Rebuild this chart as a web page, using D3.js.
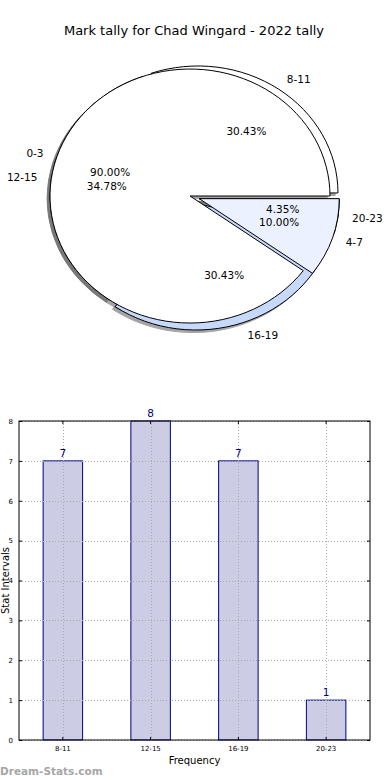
<!DOCTYPE html>
<html>
<head>
<meta charset="utf-8">
<script src="https://cdn.jsdelivr.net/npm/d3@7/dist/d3.min.js"></script>
<style>
html,body{margin:0;padding:0;background:#fff;}
svg{display:block;font-family:"DejaVu Sans",sans-serif;}
</style>
</head>
<body>
<svg id="chart" width="390" height="780"></svg>
<script>
// ---- data ----
const title = "Mark tally for Chad Wingard - 2022 tally";
const pie1Labels = ["0-3", "4-7"];
const pie1Values = [9, 1];
const pie2Labels = ["8-11", "12-15", "16-19", "20-23"];
const pie2Values = [7, 8, 7, 1];
const barCategories = ["8-11", "12-15", "16-19", "20-23"];
const barValues = [7, 8, 7, 1];
const yTicks = [0, 1, 2, 3, 4, 5, 6, 7, 8];

// ---- style / layout config ----
const pie1Colors = ["#ffffff", "#ebf1fe"];
const pie2Colors = ["#ffffff", "#ebf1fe", "#c6d9fb", "#9dbdf5"];
// explode offsets in pie data units [dx, dy]
const pie1Offsets = [[0, 0], [0.066, -0.021]];
const pie2Offsets = [[0.057, 0.024], [0, 0], [0.043, -0.055], [0.068, -0.024]];

const svg = d3.select("#chart");

svg.append("text").attr("x", 194).attr("y", 30).attr("text-anchor", "middle")
  .attr("dominant-baseline", "central").attr("font-size", 13).attr("fill", "#000").text(title);

// ---- pie ----
const px = d3.scaleLinear().domain([-1, 1]).range([50, 330]);
const py = d3.scaleLinear().domain([-1, 1]).range([323, 69]);
const rx = px(1) - px(0), ry = py(0) - py(1);

function wedges(values, offsets, colors, labels) {
  const total = d3.sum(values);
  let acc = 0;
  return values.map((v, i) => {
    const t1 = acc / total * 2 * Math.PI;
    acc += v;
    const t2 = acc / total * 2 * Math.PI;
    return {t1, t2, frac: v / total, off: offsets[i], color: colors[i], label: labels[i]};
  });
}
const w2 = wedges(pie2Values, pie2Offsets, pie2Colors, pie2Labels);
const w1 = wedges(pie1Values, pie1Offsets, pie1Colors, pie1Labels);
const arc = d3.arc().innerRadius(0).outerRadius(1);
function wedgePath(w) {
  return arc({startAngle: Math.PI / 2 - w.t2, endAngle: Math.PI / 2 - w.t1});
}
const pieG = svg.append("g");
const shadowG = pieG.append("g");
const wedgeG = pieG.append("g");
const textG = pieG.append("g");
const all = w2.concat(w1);
// shadows (below all wedges)
all.forEach(w => {
  const sx = px(w.off[0] - 0.02), sy = py(w.off[1] - 0.02);
  shadowG.append("path").attr("d", wedgePath(w))
    .attr("transform", `translate(${sx},${sy}) scale(${rx},${ry})`)
    .attr("fill", "#4d4d4d").attr("stroke", "#4d4d4d").attr("stroke-width", 1)
    .attr("vector-effect", "non-scaling-stroke").attr("opacity", 0.5);
});
all.forEach(w => {
  wedgeG.append("path").attr("d", wedgePath(w))
    .attr("transform", `translate(${px(w.off[0])},${py(w.off[1])}) scale(${rx},${ry})`)
    .attr("fill", w.color).attr("stroke", "#000").attr("stroke-width", 1)
    .attr("stroke-linejoin", "miter")
    .attr("vector-effect", "non-scaling-stroke");
});
const fmt = d3.format(".2f");
all.forEach(w => {
  const tm = (w.t1 + w.t2) / 2;
  const cxd = w.off[0], cyd = w.off[1];
  const lx = cxd + 1.1 * Math.cos(tm), ly = cyd + 1.1 * Math.sin(tm);
  textG.append("text").attr("x", px(lx)).attr("y", py(ly))
    .attr("text-anchor", lx > 0 ? "start" : "end").attr("dominant-baseline", "central")
    .attr("font-size", 10.5).attr("fill", "#000").text(w.label);
  const qx = cxd + 0.6 * Math.cos(tm), qy = cyd + 0.6 * Math.sin(tm);
  textG.append("text").attr("x", px(qx)).attr("y", py(qy))
    .attr("text-anchor", "middle").attr("dominant-baseline", "central")
    .attr("font-size", 10.5).attr("fill", "#000").text(fmt(w.frac * 100) + "%");
});

// ---- bar chart ----
const L = 19, R = 370, T = 421, B = 740;
const x = d3.scaleBand().domain(barCategories).range([L, R]).paddingInner(0.55).paddingOuter(0.275);
const y = d3.scaleLinear().domain([0, 8]).range([B, T]);
const bg = svg.append("g");
bg.selectAll("rect.bar").data(barValues).join("rect").attr("class", "bar")
  .attr("x", (d, i) => x(barCategories[i])).attr("y", d => y(d))
  .attr("width", x.bandwidth()).attr("height", d => B - y(d))
  .attr("fill", "#ccccE5").attr("stroke", "#000080").attr("stroke-width", 1);
// grid
bg.selectAll("line.hg").data(yTicks).join("line").attr("class", "hg")
  .attr("x1", L).attr("x2", R).attr("y1", d => Math.round(y(d)) + 0.5).attr("y2", d => Math.round(y(d)) + 0.5)
  .attr("stroke", "#aaa").attr("stroke-width", 1).attr("stroke-dasharray", "1,2");
bg.selectAll("line.vg").data(barCategories).join("line").attr("class", "vg")
  .attr("y1", T).attr("y2", B)
  .attr("x1", d => Math.round(x(d) + x.bandwidth() / 2) + 0.5).attr("x2", d => Math.round(x(d) + x.bandwidth() / 2) + 0.5)
  .attr("stroke", "#aaa").attr("stroke-width", 1).attr("stroke-dasharray", "1,2");
// frame
bg.append("rect").attr("x", L).attr("y", T).attr("width", R - L).attr("height", B - T)
  .attr("fill", "none").attr("stroke", "#000").attr("stroke-width", 1);
// axes
const yAxis = d3.axisLeft(y).tickValues(yTicks).tickSize(-3).tickPadding(6);
const yAx = bg.append("g").attr("transform", `translate(${L},0)`).call(yAxis);
yAx.select(".domain").remove();
yAx.selectAll("text").attr("font-size", 7).attr("font-family", "DejaVu Sans").attr("fill", "#000");
const yAxisR = d3.axisRight(y).tickValues(yTicks).tickSize(-3).tickFormat("");
bg.append("g").attr("transform", `translate(${R},0)`).call(yAxisR).select(".domain").remove();
const xAxis = d3.axisBottom(x).tickSize(-3).tickPadding(6);
const xAx = bg.append("g").attr("transform", `translate(0,${B})`).call(xAxis);
xAx.select(".domain").remove();
xAx.selectAll("text").attr("font-size", 7).attr("font-family", "DejaVu Sans").attr("fill", "#000");
const xAxisT = d3.axisTop(x).tickSize(-3).tickFormat("");
bg.append("g").attr("transform", `translate(0,${T})`).call(xAxisT).select(".domain").remove();
// value labels
bg.selectAll("text.val").data(barValues).join("text").attr("class", "val")
  .attr("x", (d, i) => x(barCategories[i]) + x.bandwidth() / 2).attr("y", d => y(d) - 4)
  .attr("text-anchor", "middle").attr("font-size", 10.5).attr("fill", "#000080").text(d => d);
// axis titles
bg.append("text").attr("x", (L + R) / 2).attr("y", 764).attr("text-anchor", "middle")
  .attr("font-size", 10).attr("fill", "#000").text("Frequency");
bg.append("text").attr("transform", `translate(8.5,${(T + B) / 2}) rotate(-90)`).attr("text-anchor", "middle")
  .attr("font-size", 10).attr("fill", "#000").text("Stat Intervals");
// watermark
svg.append("text").attr("x", 0).attr("y", 775).attr("font-size", 10.5).attr("font-weight", "bold")
  .attr("fill", "#a6a6a6").text("Dream-Stats.com");
</script>
</body>
</html>
